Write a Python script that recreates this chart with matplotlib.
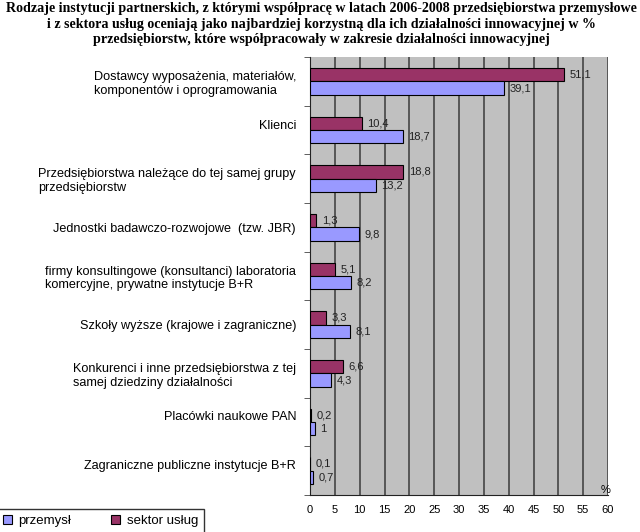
import matplotlib
matplotlib.use("Agg")
import matplotlib.pyplot as plt
import numpy as np
from matplotlib.patches import Patch

categories = [
    "Dostawcy wyposażenia, materiałów,\nkomponentów i oprogramowania",
    "Klienci\n ",
    "Przedsiębiorstwa należące do tej samej grupy\nprzedsiębiorstw",
    "Jednostki badawczo-rozwojowe  (tzw. JBR)",
    "firmy konsultingowe (konsultanci) laboratoria\nkomercyjne, prywatne instytucje B+R",
    "Szkoły wyższe (krajowe i zagraniczne)",
    "Konkurenci i inne przedsiębiorstwa z tej\nsamej dziedziny działalności",
    "Placówki naukowe PAN\n ",
    "Zagraniczne publiczne instytucje B+R\n ",
]
sektor_uslug = [51.1, 10.4, 18.8, 1.3, 5.1, 3.3, 6.6, 0.2, 0.1]
przemysl = [39.1, 18.7, 13.2, 9.8, 8.2, 8.1, 4.3, 1.0, 0.7]
xticks = list(range(0, 61, 5))

title = ("Rodzaje instytucji partnerskich, z którymi współpracę w latach 2006-2008 przedsiębiorstwa przemysłowe\n"
         "i z sektora usług oceniają jako najbardziej korzystną dla ich działalności innowacyjnej w %\n"
         "przedsiębiorstw, które współpracowały w zakresie działalności innowacyjnej")

c_prz = "#9999FF"
c_usl = "#993366"

fig = plt.figure(figsize=(6.4, 5.32), dpi=100)
ax = fig.add_axes([310/640, 37/532, 298/640, 438/532])
ax.set_facecolor("#C0C0C0")

n = len(categories)
y = np.arange(n)
h = 0.275
ax.barh(y - h/2, sektor_uslug, height=h, color=c_usl, edgecolor="black", linewidth=0.8, zorder=3)
ax.barh(y + h/2, przemysl, height=h, color=c_prz, edgecolor="black", linewidth=0.8, zorder=3)

def fmt(v):
    if float(v).is_integer():
        return str(int(v))
    return f"{v:.1f}".replace(".", ",")

for yi, v in zip(y - h/2, sektor_uslug):
    ax.annotate(fmt(v), (v, yi), xytext=(4, 0), textcoords="offset points",
                va="center", ha="left", fontsize=8, family="Liberation Sans", color="#222222", zorder=4)
for yi, v in zip(y + h/2, przemysl):
    ax.annotate(fmt(v), (v, yi), xytext=(4, 0), textcoords="offset points",
                va="center", ha="left", fontsize=8, family="Liberation Sans", color="#222222", zorder=4)

ax.set_xlim(0, 60)
ax.set_ylim(n - 0.5, -0.5)
ax.set_xticks(xticks)
ax.set_xticklabels([str(t) for t in xticks], fontsize=8, family="Liberation Sans")
ax.tick_params(axis="x", length=0, pad=7)
for t in xticks[1:]:
    ax.axvline(t, color="#3a3a3a", linewidth=1.1, zorder=1)

ax.set_yticks(y)
ax.set_yticklabels(categories, fontsize=9.1, family="Liberation Sans", ha="right", multialignment="left")
ax.tick_params(axis="y", length=0, pad=10)
ax.set_yticks(np.arange(n + 1) - 0.5, minor=True)
ax.tick_params(axis="y", which="minor", length=4, direction="out", color="#444444")

for s in ["top", "right"]:
    ax.spines[s].set_visible(False)
ax.spines["left"].set_color("#222222")
ax.spines["bottom"].set_color("#222222")

ax.text(59.5, n - 0.5, "%", ha="center", va="bottom", fontsize=8, family="Liberation Sans")

fig.text(0.502, 0.996, title, ha="center", va="top", fontsize=10.1, family="Liberation Serif",
         fontweight="bold", linespacing=1.25)

handles = [Patch(facecolor=c_prz, edgecolor="black", linewidth=0.8),
           Patch(facecolor=c_usl, edgecolor="black", linewidth=0.8)]
leg = fig.legend(handles, ["przemysł", "sektor usług"], ncol=2, loc="upper left",
                 bbox_to_anchor=(-0.005, 23/532), prop={"family": "Liberation Sans", "size": 9.5},
                 frameon=True, fancybox=False, handlelength=0.7, handleheight=0.7,
                 handletextpad=0.5, columnspacing=3.0, borderpad=0.45, borderaxespad=0)
leg.get_frame().set_edgecolor("black")
leg.get_frame().set_linewidth(1.0)

fig.savefig("out.png", dpi=100, facecolor="white")
